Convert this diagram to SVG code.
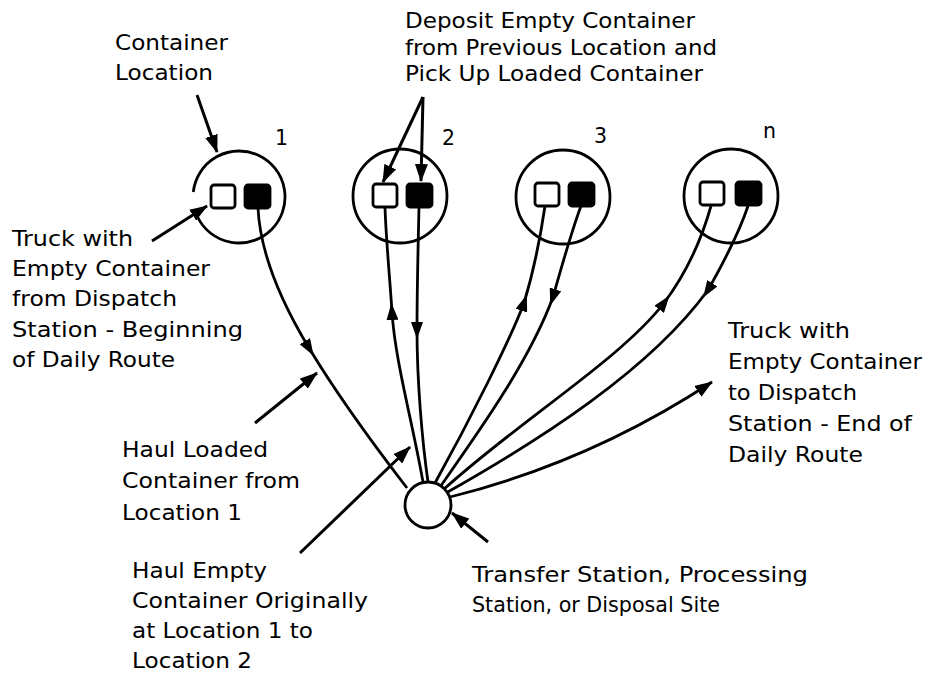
<svg xmlns="http://www.w3.org/2000/svg" width="930" height="683" viewBox="0 0 930 683">
<style>
.bg{fill:#ffffff}
.ring{fill:none;stroke:#000;stroke-width:2.8}
.sq{fill:#fff;stroke:#000;stroke-width:2.8}
.sqf{fill:#000;stroke:#000;stroke-width:2.8}
.con{fill:none;stroke:#000;stroke-width:2.8;marker-mid:url(#mid)}
.conE{fill:none;stroke:#000;stroke-width:2.8;marker-end:url(#end)}
.ptr{fill:none;stroke:#000;stroke-width:3;marker-end:url(#end)}
text{font-family:"DejaVu Sans","Liberation Sans",Arial,sans-serif;font-size:20.5px;fill:#000}
</style>
<defs>
<marker id="mid" markerUnits="userSpaceOnUse" markerWidth="17" markerHeight="12" viewBox="0 0 17 12" refX="8" refY="6" orient="auto">
<path d="M0,0 L17,6 L0,12 z" fill="#000"/>
</marker>
<marker id="end" markerUnits="userSpaceOnUse" markerWidth="18" markerHeight="13" viewBox="0 0 18 13" refX="17" refY="6.5" orient="auto">
<path d="M0,0 L18,6.5 L0,13 z" fill="#000"/>
</marker>
</defs>
<rect class="bg" x="0" y="0" width="930" height="683"/>

<g id="connectors">
<path class="con" d="M258,208 C260,250 280,300 309,348 C338,396 370,440 407,488"/>
<path class="con" d="M423,482 C412,420 395,360 392,312 C390,280 386,240 385,207"/>
<path class="con" d="M419,207 C418,250 417,290 417,330 C417,380 422,440 428,482"/>
<path class="con" d="M435,483 C470,420 510,340 524,303 C534,270 540,240 545,206"/>
<path class="con" d="M581,206 C572,230 562,265 553,297 C530,360 480,430 440,487"/>
<path class="con" d="M443,490 C520,420 620,360 664,303 C685,275 700,245 711,206"/>
<path class="con" d="M748,206 C740,230 725,260 708,290 C650,370 540,440 446,493"/>
<path class="conE" d="M450,497 Q590,462 712,382"/>
</g>

<g id="loc1">
<path class="ring" d="M197.6,217 A46,46 0 1 0 193.3,192"/>
<rect class="sq" x="211" y="185" width="24" height="23" rx="3"/>
<rect class="sqf" x="245" y="185" width="25" height="23" rx="3"/>
<text x="275" y="145">1</text>
</g>
<g id="loc2">
<circle class="ring" cx="400" cy="196" r="47"/>
<rect class="sq" x="373" y="184" width="24" height="23" rx="3"/>
<rect class="sqf" x="407" y="184" width="25" height="23" rx="3"/>
<text x="442" y="145">2</text>
</g>
<g id="loc3">
<circle class="ring" cx="563" cy="197" r="47"/>
<rect class="sq" x="535" y="183" width="24" height="23" rx="3"/>
<rect class="sqf" x="569" y="183" width="25" height="23" rx="3"/>
<text x="594" y="143">3</text>
</g>
<g id="locn">
<circle class="ring" cx="731" cy="196" r="47"/>
<rect class="sq" x="700" y="182" width="24" height="23" rx="3"/>
<rect class="sqf" x="736" y="182" width="25" height="23" rx="3"/>
<text x="763" y="138">n</text>
</g>
<g id="station">
<circle class="ring" cx="428" cy="505" r="23" style="fill:#fff"/>
</g>

<g id="pointers">
<path class="ptr" d="M197,95 L217,152"/>
<path class="ptr" d="M152,241 L207,206"/>
<path class="ptr" d="M423,97 L383,182"/>
<path class="ptr" d="M423,97 L421,181"/>
<path class="ptr" d="M255,423 L317,373"/>
<path class="ptr" d="M300,553 L410,447"/>
<path class="ptr" d="M488,542 L452,513"/>
</g>

<g id="label-container-location">
<text x="115" y="50" textLength="113" lengthAdjust="spacingAndGlyphs">Container</text>
<text x="115" y="80" textLength="98" lengthAdjust="spacingAndGlyphs">Location</text>
</g>
<g id="label-deposit">
<text x="405" y="28" textLength="290" lengthAdjust="spacingAndGlyphs">Deposit Empty Container</text>
<text x="405" y="55" textLength="312" lengthAdjust="spacingAndGlyphs">from Previous Location and</text>
<text x="405" y="81" textLength="298" lengthAdjust="spacingAndGlyphs">Pick Up Loaded Container</text>
</g>
<g id="label-truck-begin">
<text x="12" y="246" textLength="121" lengthAdjust="spacingAndGlyphs">Truck with</text>
<text x="12" y="276" textLength="198" lengthAdjust="spacingAndGlyphs">Empty Container</text>
<text x="12" y="306" textLength="165" lengthAdjust="spacingAndGlyphs">from Dispatch</text>
<text x="12" y="337" textLength="231" lengthAdjust="spacingAndGlyphs">Station - Beginning</text>
<text x="12" y="367" textLength="163" lengthAdjust="spacingAndGlyphs">of Daily Route</text>
</g>
<g id="label-truck-end">
<text x="728" y="338" textLength="122" lengthAdjust="spacingAndGlyphs">Truck with</text>
<text x="728" y="369" textLength="194" lengthAdjust="spacingAndGlyphs">Empty Container</text>
<text x="728" y="400" textLength="129" lengthAdjust="spacingAndGlyphs">to Dispatch</text>
<text x="728" y="431" textLength="184" lengthAdjust="spacingAndGlyphs">Station - End of</text>
<text x="728" y="462" textLength="135" lengthAdjust="spacingAndGlyphs">Daily Route</text>
</g>
<g id="label-haul-loaded">
<text x="122" y="457" textLength="146" lengthAdjust="spacingAndGlyphs">Haul Loaded</text>
<text x="122" y="488" textLength="178" lengthAdjust="spacingAndGlyphs">Container from</text>
<text x="122" y="520" textLength="120" lengthAdjust="spacingAndGlyphs">Location 1</text>
</g>
<g id="label-haul-empty">
<text x="132" y="578" textLength="135" lengthAdjust="spacingAndGlyphs">Haul Empty</text>
<text x="132" y="608" textLength="236" lengthAdjust="spacingAndGlyphs">Container Originally</text>
<text x="132" y="638" textLength="181" lengthAdjust="spacingAndGlyphs">at Location 1 to</text>
<text x="132" y="668" textLength="120" lengthAdjust="spacingAndGlyphs">Location 2</text>
</g>
<g id="label-station">
<text x="472" y="582" textLength="336" lengthAdjust="spacingAndGlyphs">Transfer Station, Processing</text>
<text x="472" y="612" textLength="248" lengthAdjust="spacingAndGlyphs">Station, or Disposal Site</text>
</g>
</svg>
